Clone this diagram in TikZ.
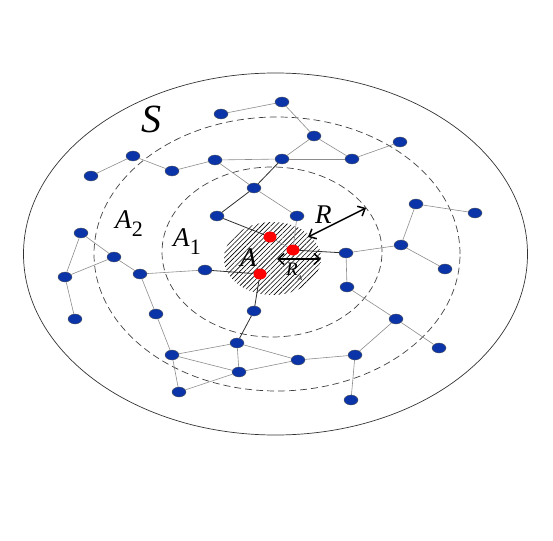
\documentclass[tikz,border=0pt]{standalone}
\usepackage{fontspec}
\setmainfont{Liberation Serif}
\usetikzlibrary{shapes.geometric, arrows.meta, patterns.meta}
\definecolor{nodeblue}{HTML}{0A34A8}
\definecolor{nodered}{HTML}{FF0000}
\definecolor{linkgray}{HTML}{8C8C8C}
\definecolor{linkdark}{HTML}{2E2E2E}
\definecolor{zonegray}{HTML}{404040}

\begin{document}
\begin{tikzpicture}[x=1pt, y=-1pt,
  sensor/.style={ellipse, fill=nodeblue, draw=gray!70!black, line width=0.4pt,
        minimum width=14pt, minimum height=10pt, inner sep=0pt},
  anchornode/.style={ellipse, fill=nodered, draw=none,
        minimum width=13pt, minimum height=11pt, inner sep=0pt},
  link/.style={linkgray, line width=0.6pt},
  hoplink/.style={linkdark, line width=0.8pt},
  zone/.style={zonegray, line width=0.7pt, dash pattern=on 7pt off 4pt},
  lbl/.style={inner sep=0pt, anchor=base west},
  rangearrow/.style={{Straight Barb[length=6pt,width=11pt]}-{Straight Barb[length=6pt,width=11pt]}, line width=1.5pt}]
  \useasboundingbox (0,0) rectangle (553,540);

  % network area and hop zones
  \draw[black!80, line width=0.7pt] (275.5,254) ellipse [x radius=252pt, y radius=181pt];
  \draw[zone] (277,254) ellipse [x radius=183pt, y radius=137pt];
  \draw[zone] (272,252) ellipse [x radius=110pt, y radius=85pt];
  \fill[pattern={Lines[angle=45, distance=3.4pt, line width=0.6pt]}, pattern color=black]
    (272.5,258.5) ellipse [x radius=48.5pt, y radius=36.5pt];

  % sensors
  \foreach \name/\x/\y in {
    s1/221/114, s2/282/102, s3/314/136, s4/400/142, s5/133/156, s6/91/176,
    s7/172/171, s8/215/160, s9/282/159, s10/352/159, s11/254/188, s12/217/216,
    s13/297/216, s14/81/233, s15/114/257, s16/65/277, s17/140/274, s18/205/270,
    s19/75/319, s20/156/314, s21/254/311, s22/237/343, s23/172/355, s24/239/372,
    s25/179/392, s26/298/360, s27/355/355, s28/351/400, s29/347/287, s30/396/319,
    s31/439/348, s32/346/253, s33/401/245, s34/416/204, s35/475/213, s36/445/269} {
    \node[sensor] (\name) at (\x,\y) {};
  }
  % anchors inside A
  \foreach \name/\x/\y in {a1/270/237, a2/293/250, a3/260/274} {
    \node[anchornode] (\name) at (\x,\y) {};
  }

  % links
  \foreach \u/\v in {s1/s2, s2/s3, s3/s9, s3/s10, s9/s10, s10/s4, s9/s8, s8/s7,
    s7/s5, s5/s6, s8/s11, s11/s13, s17/s18, s15/s17, s14/s15, s16/s15, s14/s16,
    s16/s19, s17/s20, s20/s23, s23/s25, s25/s24, s23/s22, s23/s24, s22/s24,
    s22/s26, s24/s26, s26/s27, s27/s28, s27/s30, s30/s31, s30/s29, s29/s32,
    s32/s33, s33/s34, s34/s35, s33/s36, a1/a2, s13/a2} {
    \draw[link] (\u) -- (\v);
  }
  \foreach \u/\v in {s9/s11, s11/s12, s12/a1, a2/s32, s18/a3, a3/s21, s21/s22} {
    \draw[hoplink] (\u) -- (\v);
  }

  % ranges
  \coordinate (rin) at (308,237);
  \coordinate (rout) at (366,208);
  \draw[rangearrow] (rin) -- (rout);
  \coordinate (rain) at (277,259);
  \coordinate (raout) at (321,259);
  \draw[rangearrow] (rain) -- (raout);

  % labels
  \node[lbl, font=\fontsize{40}{40}\selectfont\itshape] (slabel) at (141,133) {S};
  \node[lbl, font=\fontsize{27}{27}\selectfont] (atwo) at (115,228)
    {\textit{A}\raisebox{-8pt}{\fontsize{22}{22}\selectfont 2}};
  \node[lbl, font=\fontsize{27}{27}\selectfont] (aone) at (173,246)
    {\textit{A}\raisebox{-8pt}{\fontsize{22}{22}\selectfont 1}};
  \node[lbl, font=\fontsize{27}{27}\selectfont\itshape] (azero) at (240,266) {A};
  \node[lbl, font=\fontsize{27}{27}\selectfont\itshape] (rlabel) at (315,223) {R};
  \node[lbl, font=\fontsize{19}{19}\selectfont] (ralabel) at (286,275)
    {\textit{R}\raisebox{-5pt}{\fontsize{7}{7}\selectfont\itshape A}};
\end{tikzpicture}
\end{document}
